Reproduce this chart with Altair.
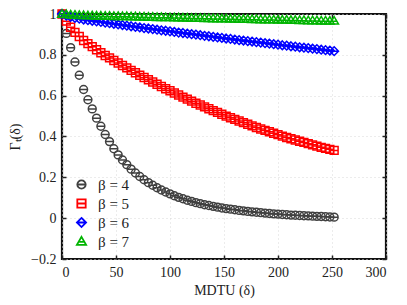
import altair as alt
import pandas as pd

x_vals = [0, 4, 8, 12, 16, 20, 24, 28, 32, 36, 40, 44, 48, 52, 56, 60,
          64, 68, 72, 76, 80, 84, 88, 92, 96, 100, 104, 108, 112, 116, 120, 124,
          128, 132, 136, 140, 144, 148, 152, 156, 160, 164, 168, 172, 176, 180, 184, 188,
          192, 196, 200, 204, 208, 212, 216, 220, 224, 228, 232, 236, 240, 244, 248, 252]

beta4 = [1.000, 0.905, 0.835, 0.765, 0.700, 0.630, 0.580, 0.535, 0.490, 0.450, 0.410, 0.375, 0.340, 0.310, 0.285, 0.262,
         0.240, 0.221, 0.204, 0.188, 0.174, 0.161, 0.149, 0.138, 0.128, 0.119, 0.110, 0.102, 0.095, 0.088, 0.082, 0.076,
         0.071, 0.066, 0.062, 0.058, 0.054, 0.050, 0.047, 0.044, 0.041, 0.038, 0.036, 0.033, 0.031, 0.029, 0.027, 0.025,
         0.023, 0.021, 0.020, 0.018, 0.017, 0.015, 0.014, 0.013, 0.012, 0.011, 0.010, 0.009, 0.008, 0.007, 0.006, 0.005]

beta5 = [1.000, 0.965, 0.935, 0.910, 0.890, 0.870, 0.855, 0.840, 0.825, 0.810, 0.797, 0.785, 0.772, 0.760, 0.748, 0.736,
         0.724, 0.712, 0.700, 0.689, 0.678, 0.667, 0.656, 0.645, 0.634, 0.624, 0.613, 0.603, 0.593, 0.583, 0.573, 0.563,
         0.554, 0.545, 0.536, 0.527, 0.518, 0.509, 0.500, 0.492, 0.484, 0.476, 0.468, 0.460, 0.452, 0.444, 0.437, 0.430,
         0.423, 0.416, 0.409, 0.402, 0.395, 0.389, 0.383, 0.377, 0.371, 0.365, 0.359, 0.353, 0.347, 0.342, 0.337, 0.332]

beta6 = [1.000, 0.992, 0.986, 0.981, 0.977, 0.973, 0.970, 0.967, 0.964, 0.961, 0.958, 0.955, 0.952, 0.949, 0.946, 0.943,
         0.940, 0.937, 0.934, 0.931, 0.929, 0.926, 0.923, 0.920, 0.918, 0.915, 0.912, 0.909, 0.907, 0.904, 0.901, 0.899,
         0.896, 0.893, 0.891, 0.888, 0.885, 0.883, 0.880, 0.878, 0.875, 0.872, 0.870, 0.867, 0.865, 0.862, 0.860, 0.857,
         0.855, 0.852, 0.850, 0.847, 0.845, 0.842, 0.840, 0.837, 0.835, 0.833, 0.830, 0.828, 0.825, 0.823, 0.821, 0.818]

beta7 = [1.000, 0.998, 0.996, 0.995, 0.994, 0.993, 0.992, 0.992, 0.991, 0.991, 0.990, 0.990, 0.989, 0.989, 0.988, 0.988,
         0.987, 0.987, 0.986, 0.986, 0.985, 0.985, 0.984, 0.984, 0.983, 0.983, 0.982, 0.982, 0.981, 0.981, 0.980, 0.980,
         0.980, 0.979, 0.979, 0.978, 0.978, 0.977, 0.977, 0.976, 0.976, 0.975, 0.975, 0.975, 0.974, 0.974, 0.973, 0.973,
         0.972, 0.972, 0.971, 0.971, 0.971, 0.970, 0.970, 0.969, 0.969, 0.968, 0.968, 0.968, 0.967, 0.967, 0.966, 0.966]

series_names = ["β = 4", "β = 5", "β = 6", "β = 7"]
series_vals = [beta4, beta5, beta6, beta7]
colors = ["#404040", "#ff0000", "#0000ff", "#00b400"]
shapes = [
    "M-1,0A1,1,0,1,0,1,0A1,1,0,1,0,-1,0M-1,0L1,0",
    "M-1,-1L1,-1L1,1L-1,1ZM-1,0L1,0",
    "M0,-1.1L1.1,0L0,1.1L-1.1,0ZM-1.1,0L1.1,0",
    "M0,-1.1L1.1,0.8L-1.1,0.8ZM-0.6,0.1L0.6,0.1",
]

rows = []
for name, vals in zip(series_names, series_vals):
    for xv, yv in zip(x_vals, vals):
        rows.append({"x": xv, "y": yv, "series": name})
df = pd.DataFrame(rows)

FONT = "Liberation Serif"
xscale = alt.Scale(domain=[0, 300], nice=False, zero=False)
yscale = alt.Scale(domain=[-0.2, 1.0], nice=False, zero=False)
xticks = [0, 50, 100, 150, 200, 250, 300]
yticks = [-0.2, 0, 0.2, 0.4, 0.6, 0.8, 1.0]

points = alt.Chart(df).mark_point(filled=False, strokeWidth=1.5, size=62, clip=False, opacity=1).encode(
    x=alt.X("x:Q", scale=xscale,
            axis=alt.Axis(values=xticks, title="MDTU (δ)", ticks=False, domain=False,
                          labelPadding=6, titlePadding=4,
                          grid=True, gridDash=[1, 3], gridColor="#d8d8d8")),
    y=alt.Y("y:Q", scale=yscale,
            axis=alt.Axis(values=yticks, format=".1~f", title="Γₜ(δ)", ticks=False, domain=False,
                          labelPadding=6, titlePadding=8,
                          grid=True, gridDash=[1, 3], gridColor="#d8d8d8")),
    color=alt.Color("series:N", scale=alt.Scale(domain=series_names, range=colors),
                    legend=alt.Legend(title=None, orient="none", legendX=12, legendY=163,
                                      labelFont=FONT, labelFontSize=15, labelColor="#222",
                                      symbolStrokeWidth=1.8, symbolSize=70, rowPadding=2,
                                      labelOffset=9, padding=0)),
    shape=alt.Shape("series:N", scale=alt.Scale(domain=series_names, range=shapes), legend=None),
    order=alt.Order("idx:Q"),
).transform_calculate(idx="indexof(['β = 4','β = 5','β = 6','β = 7'], datum.series)")

tick_axis = dict(ticks=True, tickSize=4, tickWidth=1.5, tickColor="#222", labels=False,
                 domain=False, grid=False, title=None, offset=-4)

inner_bl = alt.Chart(df).mark_point(opacity=0).encode(
    x=alt.X("x:Q", scale=xscale, axis=alt.Axis(values=xticks, orient="bottom", **tick_axis)),
    y=alt.Y("y:Q", scale=yscale, axis=alt.Axis(values=yticks, orient="left", **tick_axis)),
)
inner_tr = alt.Chart(df).mark_point(opacity=0).encode(
    x=alt.X("x:Q", scale=xscale, axis=alt.Axis(values=xticks, orient="top", **tick_axis)),
    y=alt.Y("y:Q", scale=yscale, axis=alt.Axis(values=yticks, orient="right", **tick_axis)),
)

chart = alt.layer(inner_bl, inner_tr, points).resolve_axis(
    x="independent", y="independent"
).properties(
    width=324, height=245,
    autosize=alt.AutoSizeParams(type="none"),
    padding={"left": 54, "top": 6, "right": 13, "bottom": 40},
).configure_view(
    stroke="#111", strokeWidth=2.2
).configure_axis(
    labelFont=FONT, titleFont=FONT, labelFontSize=14, titleFontSize=14,
    labelColor="#222", titleColor="#222", titleFontWeight="normal"
)

chart.save("out.html", embed_options={"renderer": "svg", "actions": False})
